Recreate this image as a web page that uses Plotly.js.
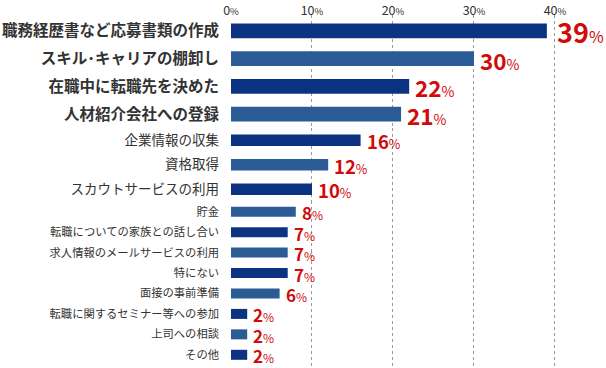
<!DOCTYPE html>
<html><head><meta charset="utf-8">
<script src="https://cdn.plot.ly/plotly-3.0.1.min.js"></script>
<style>html,body{margin:0;padding:0;background:#fff}#chart{width:606px;height:368px}</style>
</head><body><div id="chart"></div>
<script>
// ---- data ----
const labels = [
  "職務経歴書など応募書類の作成",
  "スキル･キャリアの棚卸し",
  "在職中に転職先を決めた",
  "人材紹介会社への登録",
  "企業情報の収集",
  "資格取得",
  "スカウトサービスの利用",
  "貯金",
  "転職についての家族との話し合い",
  "求人情報のメールサービスの利用",
  "特にない",
  "面接の事前準備",
  "転職に関するセミナー等への参加",
  "上司への相談",
  "その他"
];
const values = [39, 30, 22, 21, 16, 12, 10, 8, 7, 7, 7, 6, 2, 2, 2];
const tierSizes = [4, 3, 8];
const tickValues = [0, 10, 20, 30, 40];
const tickLabels = ["0", "10", "20", "30", "40"];

// ---- styles ----
const DARK = '#0c3381', LIGHT = '#2b5c96', RED = '#d10a0a', TEXT = '#333333';
const FONT = '"Noto Sans CJK JP", "Noto Sans", sans-serif';
const tiers = [
  {labelSize: 15.5, labelWeight: 700, valueSize: 22.5, pctSize: 14, barWidth: 0.54, domain: [0.6799, 1], range: [3.5, -0.572]},
  {labelSize: 13.5, labelWeight: 400, valueSize: 18.5, pctSize: 12.5, barWidth: 0.47, domain: [0.4717, 0.6799], range: [2.5, -0.5]},
  {labelSize: 11.3, labelWeight: 400, valueSize: 17, pctSize: 12, barWidth: 0.49, domain: [0, 0.4717], range: [7.646, -0.5]}
];
const maxVal = Math.max(...values);

const traces = [];
const annotations = [];
const layout = {
  width: 606, height: 368,
  margin: {l: 231, r: 0, t: 15, b: 0, pad: 0},
  paper_bgcolor: '#fff', plot_bgcolor: '#fff',
  showlegend: false,
  font: {family: FONT, color: TEXT},
  xaxis: {
    range: [0, 46.3], side: 'top', anchor: 'y',
    tickvals: tickValues,
    ticktext: tickLabels.map(t => t + '<span style="font-size:9.5px">%</span>'),
    tickfont: {size: 12.5, color: TEXT, family: FONT},
    ticks: '', ticklabelstandoff: -3, showgrid: true, gridcolor: '#9a9a9a', griddash: 'dot', gridwidth: 1,
    zeroline: false, showline: false, fixedrange: true
  },
  annotations: annotations
};

let start = 0;
tiers.forEach((tier, t) => {
  const n = tierSizes[t];
  const ys = labels.slice(start, start + n);
  const xs = values.slice(start, start + n);
  const colors = xs.map((_, k) => ((start + k) % 2 === 0 ? DARK : LIGHT));
  const yName = t === 0 ? 'y' : 'y' + (t + 1);
  const yKey = t === 0 ? 'yaxis' : 'yaxis' + (t + 1);
  traces.push({
    type: 'bar', orientation: 'h', x: xs, y: ys,
    xaxis: 'x', yaxis: yName,
    width: tier.barWidth,
    marker: {color: colors, line: {width: 0}},
    hoverinfo: 'skip'
  });
  layout[yKey] = {
    domain: tier.domain, anchor: 'x', type: 'category',
    categoryorder: 'array', categoryarray: ys,
    range: tier.range, autorange: false,
    showgrid: false, zeroline: false, showline: false,
    ticks: '', ticklabelstandoff: 11,
    tickfont: {size: tier.labelSize, color: TEXT, family: FONT, weight: tier.labelWeight},
    fixedrange: true
  };
  xs.forEach((v, k) => {
    const top = v === maxVal;
    const vs = top ? 27 : tier.valueSize;
    const ps = top ? 16 : tier.pctSize;
    annotations.push({
      x: v, y: ys[k], xref: 'x', yref: yName,
      text: '<b>' + v + '</b><span style="font-size:' + ps + 'px">%</span>',
      font: {size: vs, color: RED, family: FONT},
      showarrow: false, xanchor: 'left', yanchor: 'middle',
      xshift: top ? 8 : 4, yshift: -1
    });
  });
  start += n;
});

Plotly.newPlot('chart', traces, layout, {staticPlot: true, displayModeBar: false});
</script>
</body></html>
